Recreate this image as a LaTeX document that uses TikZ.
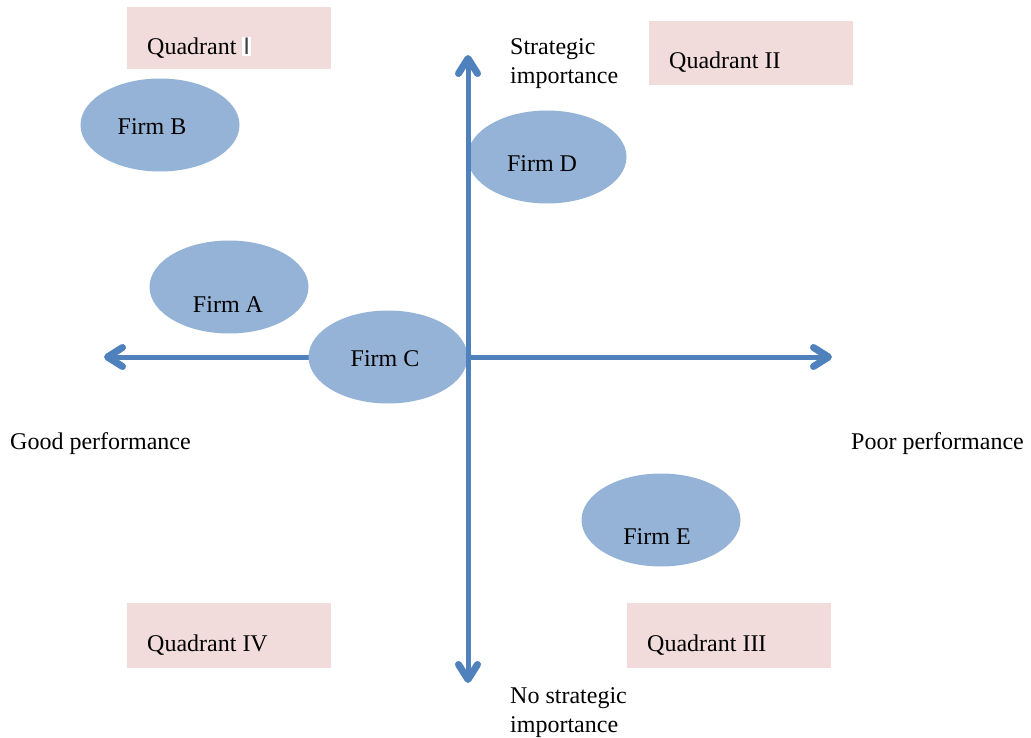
\documentclass[tikz,border=0pt]{standalone}
\usepackage{fontspec}
\setmainfont{Liberation Serif}
\newfontfamily\barfont{Liberation Sans}
\usetikzlibrary{arrows.meta,shapes.geometric}
\definecolor{axisblue}{HTML}{4F81BD}
\definecolor{firmblue}{HTML}{95B3D7}
\definecolor{quadpink}{HTML}{F2DCDB}
\begin{document}
\begin{tikzpicture}[x=1pt,y=-1pt,
  font=\fontsize{24}{29}\selectfont,
  quadbox/.style={fill=quadpink, draw=none, inner sep=0, minimum width=204pt, minimum height=62pt, anchor=north west},
  firm/.style={ellipse, fill=firmblue, draw=none, minimum width=159pt, minimum height=93pt, inner sep=0},
  axis/.style={draw=axisblue, line width=5pt, line cap=round,
    {Straight Barb[length=15pt,width=19pt,line width=7pt,line cap=round,line join=round]}-{Straight Barb[length=15pt,width=19pt,line width=7pt,line cap=round,line join=round]}},
  lbl/.style={anchor=base west, inner sep=0, align=left}]
\useasboundingbox (0,0) rectangle (1031,738);
% quadrant boxes
\node[quadbox] (q1box) at (127,7) {};
\node[quadbox, minimum height=64pt] (q2box) at (649,21) {};
\node[quadbox, minimum height=65pt] (q4box) at (127,603) {};
\node[quadbox, minimum height=65pt] (q3box) at (627,603) {};
\node[lbl] (q1) at (147,55) {Quadrant {\barfont\color{black!75}\setlength{\fboxsep}{1pt}\colorbox{white}{I}}};
\node[lbl] (q2) at (669,69) {Quadrant II};
\node[lbl] (q4) at (147,651) {Quadrant IV};
\node[lbl] (q3) at (647,651) {Quadrant III};
% axes
\coordinate (top) at (468,55);
\coordinate (bottom) at (468,683);
\coordinate (left) at (104,357);
\coordinate (right) at (832,357);
\draw[axis] (left) -- (right);
% firms
\node[firm] (fb) at (160,125) {};
\node[firm] (fa) at (229,287) {};
\node[firm] (fc) at (388,357) {};
\node[firm] (fd) at (547,157) {};
\node[firm] (fe) at (661,520) {};
\draw[axis] (bottom) -- (top);
\node[anchor=base] (tb) at (152,135) {Firm B};
\node[anchor=base] (ta) at (228,312) {Firm A};
\node[anchor=base] (tc) at (385,366) {Firm C};
\node[anchor=base] (td) at (542,172) {Firm D};
\node[anchor=base] (te) at (657,544) {Firm E};
% axis labels
\node[lbl] (si) at (510,84) {Strategic\\importance};
\node[lbl] (nsi) at (510,732) {No strategic\\importance};
\node[lbl] (good) at (10,449) {Good performance};
\node[lbl] (poor) at (851,449) {Poor performance};
\end{tikzpicture}
\end{document}
